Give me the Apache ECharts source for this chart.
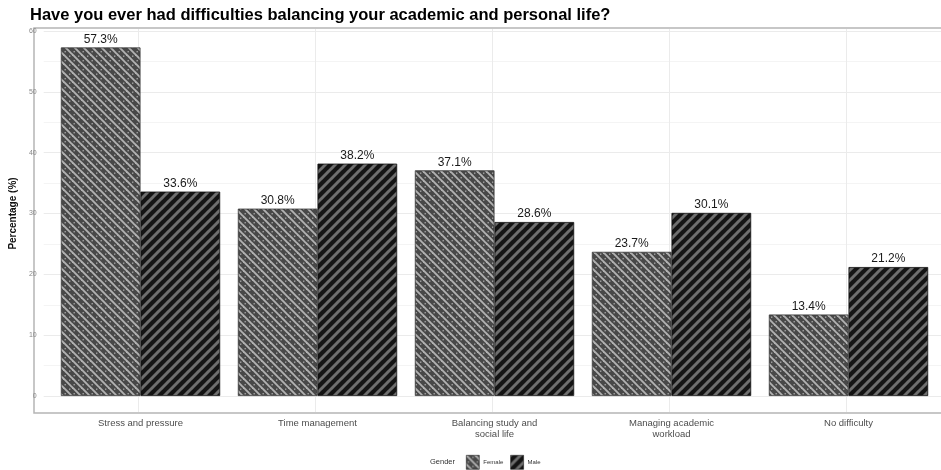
<!DOCTYPE html>
<html><head><meta charset="utf-8">
<script src="https://cdn.jsdelivr.net/npm/echarts@6/dist/echarts.min.js"></script>
<style>html,body{margin:0;padding:0;background:#fff}#c{width:941px;height:470px}</style>
</head><body><div id="c"></div>
<script>
const titleText = 'Have you ever had difficulties balancing your academic and personal life?';
const categories = ['Stress and pressure', 'Time management', 'Balancing study and\nsocial life', 'Managing academic\nworkload', 'No difficulty'];
const femaleValues = [57.3, 30.8, 37.1, 23.7, 13.4];
const maleValues = [33.6, 38.2, 28.6, 30.1, 21.2];
const yTicks = [0, 10, 20, 30, 40, 50, 60];

function femalePattern() {
  const s = 9, c = document.createElement('canvas');
  c.width = s; c.height = s;
  const g = c.getContext('2d');
  g.fillStyle = '#484848'; g.fillRect(0, 0, s, s);
  g.strokeStyle = '#b2b2b2'; g.lineWidth = 1.9;
  for (const o of [-s, 0, s]) { g.beginPath(); g.moveTo(o - 1, -1); g.lineTo(o + s + 1, s + 1); g.stroke(); }
  g.fillStyle = '#a4a4a4';
  g.fillRect(6, 1.5, 1.4, 1.4);
  g.fillRect(1.5, 6, 1.4, 1.4);
  return { image: c, repeat: 'repeat' };
}
function malePattern() {
  const s = 10, c = document.createElement('canvas');
  c.width = s; c.height = s;
  const g = c.getContext('2d');
  g.fillStyle = '#141414'; g.fillRect(0, 0, s, s);
  g.strokeStyle = '#6e6e6e'; g.lineWidth = 3;
  for (const o of [-s, 0, s]) { g.beginPath(); g.moveTo(o - 1, s + 1); g.lineTo(o + s + 1, -1); g.stroke(); }
  return { image: c, repeat: 'repeat' };
}

const chart = echarts.init(document.getElementById('c'), null, { renderer: 'canvas' });
const labelCfg = { show: true, position: 'top', distance: 2, fontSize: 12, color: '#1a1a1a', fontFamily: 'Liberation Sans', formatter: p => p.value.toFixed(1) + '%' };
chart.setOption({
  animation: false,
  textStyle: { fontFamily: 'Liberation Sans' },
  title: { text: titleText, left: 25, top: 2, textStyle: { fontSize: 16.5, fontWeight: 'bold', color: '#000', fontFamily: 'Liberation Sans' } },
  graphic: [
    { type: 'rect', z: 0, silent: true, shape: { x: 34, y: 28, width: 920, height: 385 }, style: { fill: 'none', stroke: '#b5b5b5', lineWidth: 1.5 } },
    { type: 'text', left: 430, top: 458, style: { text: 'Gender', fontSize: 7.5, fill: '#333', fontFamily: 'Liberation Sans' } }
  ],
  legend: {
    left: 466, top: 455, padding: 0, itemWidth: 13, itemHeight: 14, itemGap: 7, icon: 'rect',
    textStyle: { fontSize: 6, color: '#333', padding: [0, 0, 0, -1] },
    itemStyle: { borderColor: '#222', borderWidth: 0.6 },
    data: ['Female', 'Male']
  },
  grid: [
    { left: 52, width: 885, top: 31, bottom: 74 },
    { left: 34, width: 920, top: 31, bottom: 74 },
    { left: 138, width: 708, top: 29, bottom: 58 }
  ],
  xAxis: [
    { type: 'category', gridIndex: 0, data: categories, axisLine: { show: false }, axisTick: { show: false }, splitLine: { show: false },
      axisLabel: { margin: 22, fontSize: 9.5, color: '#4d4d4d', lineHeight: 11, interval: 0 } },
    { type: 'value', gridIndex: 1, show: false, min: 0, max: 1 },
    { type: 'category', gridIndex: 2, data: categories, boundaryGap: false, axisLine: { show: false }, axisTick: { show: false }, axisLabel: { show: false },
      splitLine: { show: true, lineStyle: { color: '#ebebeb', width: 1 } } }
  ],
  yAxis: [
    { type: 'value', gridIndex: 0, min: 0, max: 60, interval: 10, show: false },
    { type: 'value', gridIndex: 1, min: 0, max: 60, interval: 10,
      name: 'Percentage (%)', nameLocation: 'middle', nameGap: 20, nameRotate: 90,
      nameTextStyle: { fontSize: 10, fontWeight: 'bold', color: '#111' },
      axisLine: { show: false }, axisTick: { show: false },
      axisLabel: { fontSize: 7, color: '#888', margin: 7 },
      splitLine: { show: true, lineStyle: { color: '#ebebeb', width: 1 } },
      minorTick: { show: false, splitNumber: 2 },
      minorSplitLine: { show: true, lineStyle: { color: '#f4f4f4', width: 1 } } },
    { type: 'value', gridIndex: 2, show: false, min: 0, max: 1 }
  ],
  series: [
    { name: 'Female', type: 'bar', xAxisIndex: 0, yAxisIndex: 0, data: femaleValues, barGap: '0%', barCategoryGap: '10%', z: 3,
      itemStyle: { color: femalePattern(), borderColor: '#3a3a3a', borderWidth: 0.8 }, label: labelCfg },
    { name: 'Male', type: 'bar', xAxisIndex: 0, yAxisIndex: 0, data: maleValues, barGap: '0%', barCategoryGap: '10%', z: 3,
      itemStyle: { color: malePattern(), borderColor: '#111', borderWidth: 0.8 }, label: labelCfg }
  ]
});
</script></body></html>
